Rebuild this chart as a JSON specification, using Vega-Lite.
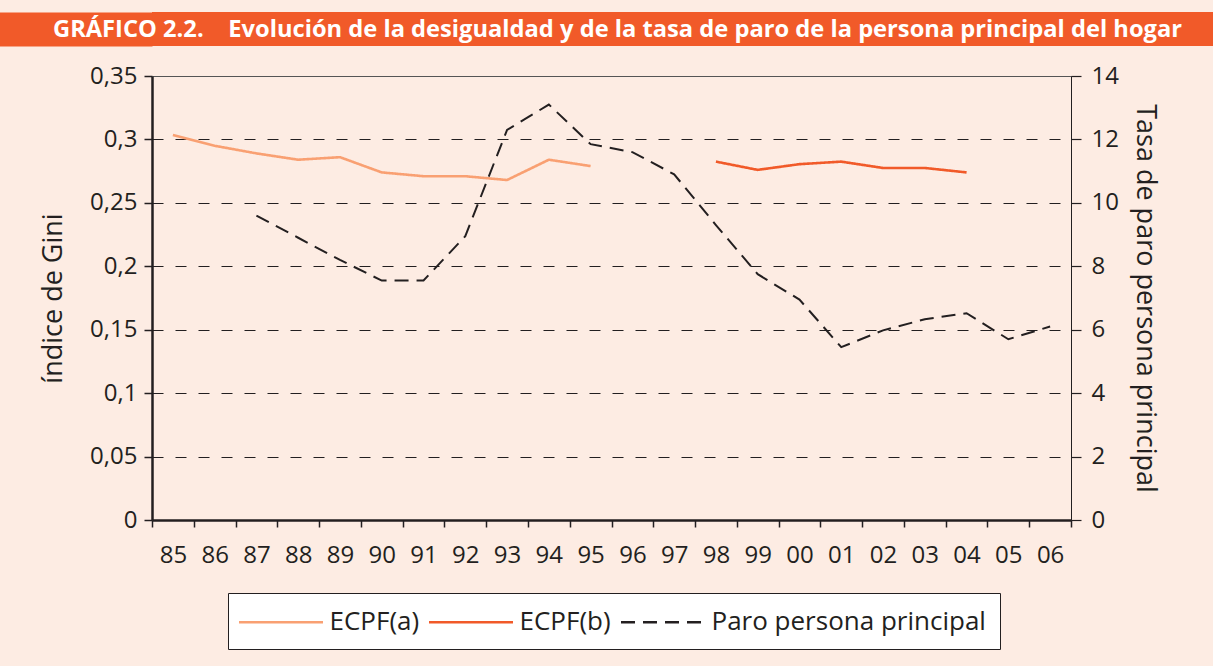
{
  "$schema": "https://vega.github.io/schema/vega-lite/v6.json",
  "background": "#FDECE3",
  "padding": {"left": 10, "top": 12, "right": 0, "bottom": 17},
  "config": {"font": "Open Sans", "view": {"stroke": null}},
  "datasets": {
    "gini": [
      {"year": "85", "serie": "ECPF(a)", "gini": 0.3035},
      {"year": "86", "serie": "ECPF(a)", "gini": 0.295},
      {"year": "87", "serie": "ECPF(a)", "gini": 0.289},
      {"year": "88", "serie": "ECPF(a)", "gini": 0.284},
      {"year": "89", "serie": "ECPF(a)", "gini": 0.286},
      {"year": "90", "serie": "ECPF(a)", "gini": 0.274},
      {"year": "91", "serie": "ECPF(a)", "gini": 0.271},
      {"year": "92", "serie": "ECPF(a)", "gini": 0.271},
      {"year": "93", "serie": "ECPF(a)", "gini": 0.268},
      {"year": "94", "serie": "ECPF(a)", "gini": 0.284},
      {"year": "95", "serie": "ECPF(a)", "gini": 0.279},
      {"year": "98", "serie": "ECPF(b)", "gini": 0.2825},
      {"year": "99", "serie": "ECPF(b)", "gini": 0.276},
      {"year": "00", "serie": "ECPF(b)", "gini": 0.2805},
      {"year": "01", "serie": "ECPF(b)", "gini": 0.2825},
      {"year": "02", "serie": "ECPF(b)", "gini": 0.2775},
      {"year": "03", "serie": "ECPF(b)", "gini": 0.2775},
      {"year": "04", "serie": "ECPF(b)", "gini": 0.274}
    ],
    "paro": [
      {"year": "87", "serie": "Paro persona principal", "paro": 9.6},
      {"year": "88", "serie": "Paro persona principal", "paro": 8.9},
      {"year": "89", "serie": "Paro persona principal", "paro": 8.2},
      {"year": "90", "serie": "Paro persona principal", "paro": 7.55},
      {"year": "91", "serie": "Paro persona principal", "paro": 7.55},
      {"year": "92", "serie": "Paro persona principal", "paro": 8.95},
      {"year": "93", "serie": "Paro persona principal", "paro": 12.3},
      {"year": "94", "serie": "Paro persona principal", "paro": 13.1},
      {"year": "95", "serie": "Paro persona principal", "paro": 11.85},
      {"year": "96", "serie": "Paro persona principal", "paro": 11.6},
      {"year": "97", "serie": "Paro persona principal", "paro": 10.9},
      {"year": "98", "serie": "Paro persona principal", "paro": 9.3},
      {"year": "99", "serie": "Paro persona principal", "paro": 7.75},
      {"year": "00", "serie": "Paro persona principal", "paro": 6.95},
      {"year": "01", "serie": "Paro persona principal", "paro": 5.45},
      {"year": "02", "serie": "Paro persona principal", "paro": 5.98},
      {"year": "03", "serie": "Paro persona principal", "paro": 6.33},
      {"year": "04", "serie": "Paro persona principal", "paro": 6.52},
      {"year": "05", "serie": "Paro persona principal", "paro": 5.7},
      {"year": "06", "serie": "Paro persona principal", "paro": 6.1}
    ]
  },
  "spacing": 17,
  "vconcat": [
    {
      "width": 1061,
      "height": 34,
      "view": {"fill": "#F15A29", "stroke": null},
      "data": {"values": [{"t": "GRÁFICO 2.2.\u00a0\u00a0\u00a0\u00a0Evolución de la desigualdad y de la tasa de paro de la persona principal del hogar"}]},
      "mark": {"type": "text", "color": "#FFFFFF", "fontWeight": "bold", "fontSize": 23.7, "font": "Open Sans", "dx": -65, "dy": 1, "align": "center", "baseline": "middle"},
      "encoding": {
        "text": {"field": "t", "type": "nominal"},
        "y": {"datum": 1, "type": "quantitative", "scale": {"domain": [0, 2]},
          "axis": {"title": null, "labels": false, "ticks": false, "grid": false,
            "domainColor": "#F15A29", "domainWidth": 284, "offset": 142}}
      }
    },
    {
      "width": 919,
      "height": 444,
      "view": {"stroke": "#555555", "strokeWidth": 1},
      "resolve": {"scale": {"y": "independent"}},
      "layer": [
        {
          "data": {"name": "gini"},
          "mark": {"type": "line", "strokeWidth": 2.6},
          "encoding": {
            "x": {
              "field": "year", "type": "ordinal", "bandPosition": 0.5, "title": null,
              "scale": {"type": "band", "paddingInner": 0, "paddingOuter": 0,
                "domain": ["85","86","87","88","89","90","91","92","93","94","95","96","97","98","99","00","01","02","03","04","05","06"]},
              "axis": {"labelAngle": 0, "tickBand": "extent", "domainWidth": 2.5, "domainColor": "#231F20",
                "tickSize": 7, "tickColor": "#231F20", "tickWidth": 1.5, "labelFontSize": 24, "labelColor": "#231F20",
                "labelPadding": 16, "grid": false, "labelFont": "Open Sans"}
            },
            "y": {
              "field": "gini", "type": "quantitative",
              "scale": {"domain": [0, 0.35]},
              "axis": {"values": [0, 0.05, 0.1, 0.15, 0.2, 0.25, 0.3, 0.35],
                "labelExpr": "replace(format(datum.value, '.2~f'), '.', ',')",
                "title": "índice de Gini",
                "domainColor": "#231F20", "domainWidth": 2.5, "tickColor": "#231F20", "tickSize": 8, "tickWidth": 1.5,
                "labelFontSize": 24, "labelColor": "#231F20", "labelPadding": 7, "labelFlush": false, "labelOverlap": false,
                "titleFontSize": 27, "titleFontWeight": "normal", "titleColor": "#231F20", "titlePadding": 22,
                "grid": true, "gridColor": "#231F20", "gridDash": [11, 12], "gridWidth": 1.2,
                "gridOpacity": {"condition": {"test": "datum.value >= 0.35 || datum.value <= 0", "value": 0}, "value": 1}}
            },
            "color": {
              "field": "serie", "type": "nominal",
              "scale": {"domain": ["ECPF(a)", "ECPF(b)", "Paro persona principal"], "range": ["#F9A072", "#F15A29", "#231F20"]},
              "legend": {"title": null, "orient": "none", "legendX": 76, "legendY": 581, "direction": "horizontal", "symbolType": "M-3,0H3", "symbolSize": 784,
                "symbolStrokeWidth": 2.5, "symbolOffset": 24, "labelFontSize": 26, "labelFont": "Open Sans", "labelColor": "#231F20", "labelLimit": 400,
                "fillColor": "#FFFFFF", "strokeColor": "#231F20", "padding": 13.5, "columnPadding": 4, "labelOffset": 33}
            },
            "strokeDash": {
              "field": "serie", "type": "nominal",
              "scale": {"domain": ["ECPF(a)", "ECPF(b)", "Paro persona principal"], "range": [[1, 0], [1, 0], [14, 8]]},
              "legend": {"title": null, "orient": "none", "legendX": 76, "legendY": 581, "direction": "horizontal", "symbolType": "M-3,0H3", "symbolSize": 784,
                "symbolStrokeWidth": 2.5, "symbolOffset": 24, "labelFontSize": 26, "labelFont": "Open Sans", "labelColor": "#231F20", "labelLimit": 400,
                "fillColor": "#FFFFFF", "strokeColor": "#231F20", "padding": 13.5, "columnPadding": 4, "labelOffset": 33}
            }
          }
        },
        {
          "data": {"name": "paro"},
          "mark": {"type": "line", "strokeWidth": 2},
          "encoding": {
            "x": {
              "field": "year", "type": "ordinal", "bandPosition": 0.5, "title": null,
              "scale": {"type": "band", "paddingInner": 0, "paddingOuter": 0,
                "domain": ["85","86","87","88","89","90","91","92","93","94","95","96","97","98","99","00","01","02","03","04","05","06"]}
            },
            "y": {
              "field": "paro", "type": "quantitative",
              "scale": {"domain": [0, 14]},
              "axis": {"orient": "right", "values": [0, 2, 4, 6, 8, 10, 12, 14], "grid": false,
                "title": "Tasa de paro persona principal",
                "domainColor": "#231F20", "domainWidth": 1, "tickColor": "#231F20", "tickSize": 10, "tickWidth": 1.2,
                "labelFontSize": 24, "labelColor": "#231F20", "labelPadding": 10, "labelFlush": false, "labelOverlap": false,
                "titleFontSize": 27, "titleFontWeight": "normal", "titleColor": "#231F20", "titlePadding": 12}
            },
            "color": {"field": "serie", "type": "nominal"},
            "strokeDash": {"field": "serie", "type": "nominal"}
          }
        }
      ]
    }
  ]
}
